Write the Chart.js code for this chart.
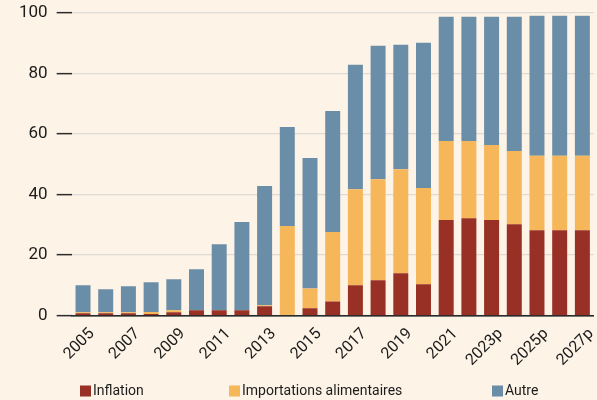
<!DOCTYPE html>
<html>
<head>
<meta charset="utf-8">
<script src="https://cdn.jsdelivr.net/npm/chart.js@4/dist/chart.umd.min.js"></script>
<style>
  html, body { margin: 0; padding: 0; background: #fdf3e7; }
  #wrap { width: 597px; height: 400px; position: relative; }
</style>
</head>
<body>
<div id="wrap"><canvas id="c" width="597" height="400"></canvas></div>
<script>
// Years (p = projection)
const years = ['2005','2006','2007','2008','2009','2010','2011','2012','2013','2014',
  '2015','2016','2017','2018','2019','2020','2021','2022','2023p','2024p','2025p','2026p','2027p'];

// Contributions, stacked from the bottom
const inflation    = [0.8, 0.8, 0.8, 0.5, 1.1, 1.8, 1.8, 1.8, 3.1, 0.0, 2.4, 4.7, 10.0, 11.7, 14.0, 10.4, 31.6, 32.2, 31.6, 30.2, 28.2, 28.2, 28.2];
const importations = [0.3, 0.3, 0.3, 0.7, 0.7, 0.0, 0.0, 0.0, 0.3, 29.6, 6.6, 22.9, 31.8, 33.4, 34.4, 31.8, 26.1, 25.5, 24.8, 24.2, 24.6, 24.6, 24.6];
const autre        = [8.9, 7.6, 8.6, 9.8, 10.2, 13.5, 21.8, 29.1, 39.4, 32.7, 43.1, 40.0, 41.1, 44.1, 41.1, 48.0, 41.1, 41.1, 42.4, 44.4, 46.3, 46.3, 46.3];

const seriesNames = ['Inflation', 'Importations alimentaires', 'Autre'];
const yTicks = [0, 20, 40, 60, 80, 100];

const FONT = 'Roboto, "Liberation Sans", sans-serif';
const INK = '#1c1c1c';

// Legend laid out in fixed columns under the axis
const columnLegend = {
  id: 'columnLegend',
  afterDraw(chart) {
    const ctx = chart.ctx;
    const cols = [80, 229, 492];
    const y = 391;
    ctx.save();
    ctx.font = '14px ' + FONT;
    ctx.textBaseline = 'middle';
    ctx.textAlign = 'left';
    chart.data.datasets.forEach((ds, i) => {
      const x = cols[i];
      ctx.fillStyle = ds.backgroundColor;
      ctx.fillRect(x, y - 5.5, 11, 11);
      ctx.fillStyle = INK;
      ctx.fillText(ds.label, x + 13, y + 0.5);
    });
    ctx.restore();
  }
};

new Chart(document.getElementById('c'), {
  type: 'bar',
  data: {
    labels: years,
    datasets: [
      { label: seriesNames[0], data: inflation,    backgroundColor: '#983025' },
      { label: seriesNames[1], data: importations, backgroundColor: '#f6b65a' },
      { label: seriesNames[2], data: autre,        backgroundColor: '#6a8ea8' }
    ]
  },
  options: {
    responsive: false,
    devicePixelRatio: 1,
    animation: false,
    layout: { padding: { top: 13, left: 10, right: 2, bottom: 29 } },
    datasets: { bar: { categoryPercentage: 1, barPercentage: 0.66, borderWidth: 0 } },
    plugins: {
      legend: { display: false },
      tooltip: { enabled: false }
    },
    scales: {
      x: {
        stacked: true,
        z: 1,
        grid: { display: false },
        border: { display: true, color: '#2b2b2b', width: 1.5 },
        ticks: {
          autoSkip: false,
          maxRotation: 45,
          minRotation: 45,
          labelOffset: 9,
          padding: 1,
          color: INK,
          font: { family: FONT, size: 16 },
          callback: function (v, i) { return i % 2 === 0 ? this.getLabelForValue(v) : ''; }
        }
      },
      y: {
        stacked: true,
        min: 0,
        max: 100,
        afterBuildTicks: (scale) => { scale.ticks = yTicks.map(v => ({ value: v })); },
        afterFit: (scale) => { scale.paddingTop = 0; scale.paddingBottom = 0; },
        border: { display: false },
        grid: {
          color: (c) => (c.tick && c.tick.value === 0 ? '#2b2b2b' : '#dedad4'),
          lineWidth: 1.3,
          drawTicks: true,
          tickColor: '#2b2b2b',
          tickWidth: 1.5,
          tickLength: 15
        },
        ticks: {
          padding: 9,
          color: INK,
          font: { family: FONT, size: 17 }
        }
      }
    }
  },
  plugins: [columnLegend]
});
</script>
</body>
</html>
